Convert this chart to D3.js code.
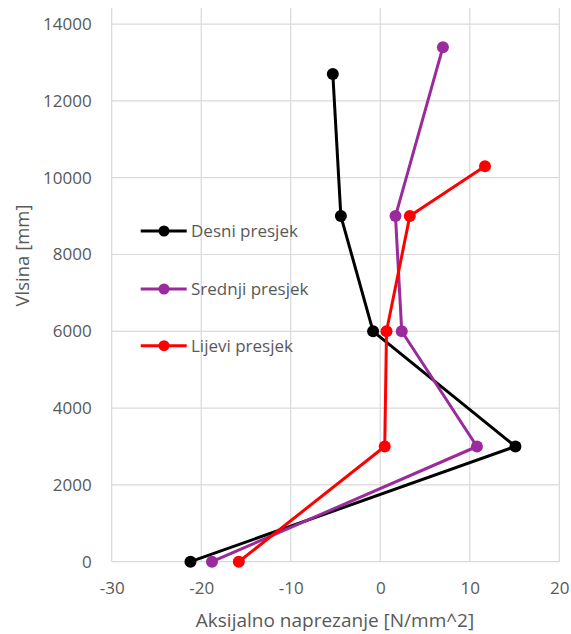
<!DOCTYPE html>
<html>
<head>
<meta charset="utf-8">
<script src="https://cdn.jsdelivr.net/npm/d3@7"></script>
<style>
  body { margin: 0; background: #fff; }
  svg { display: block; font-family: "Open Sans", sans-serif; }
</style>
</head>
<body>
<div id="container"></div>
<script>
// series: x = axial stress [N/mm^2], y = height [mm]
const seriesNames = ["Desni presjek", "Srednji presjek", "Lijevi presjek"];
const seriesColors = ["#000000", "#9b2a9c", "#ff0000"];
const desniX = [-21.2, 15.1, -0.8, -4.4, -5.3];
const desniY = [0, 3000, 6000, 9000, 12700];
const srednjiX = [-18.8, 10.8, 2.4, 1.7, 7.0];
const srednjiY = [0, 3000, 6000, 9000, 13400];
const lijeviX = [-15.8, 0.5, 0.7, 3.3, 11.7];
const lijeviY = [0, 3000, 6000, 9000, 10300];
const xTicks = [-30, -20, -10, 0, 10, 20];
const yTicks = [0, 2000, 4000, 6000, 8000, 10000, 12000, 14000];

const width = 571;
const height = 634;
const left = 111.7, right = 559.3, bottom = 561.7;

const xScale = d3.scaleLinear().domain([-30, 20]).range([left, right]);
const yScale = d3.scaleLinear().domain([0, 14000]).range([bottom, 24.1]);
const plotTop = yScale(14420);

const svg = d3.select("#container")
  .append("svg")
  .attr("width", width)
  .attr("height", height);

// gridlines
svg.append("g")
  .selectAll("line")
  .data(yTicks)
  .enter()
  .append("line")
  .attr("x1", left)
  .attr("x2", right)
  .attr("y1", d => yScale(d))
  .attr("y2", d => yScale(d))
  .attr("stroke", "#d9d9d9")
  .attr("stroke-width", 1.2);

svg.append("g")
  .selectAll("line")
  .data(xTicks)
  .enter()
  .append("line")
  .attr("x1", d => xScale(d))
  .attr("x2", d => xScale(d))
  .attr("y1", plotTop)
  .attr("y2", bottom)
  .attr("stroke", "#d9d9d9")
  .attr("stroke-width", 1.2);

// axes (labels only, lines come from the grid)
const plain = d => String(d);
const xAxis = d3.axisBottom(xScale).tickValues(xTicks).tickFormat(plain).tickSize(0).tickPadding(20);
const yAxis = d3.axisLeft(yScale).tickValues(yTicks).tickFormat(plain).tickSize(0).tickPadding(20);

const gx = svg.append("g")
  .attr("transform", `translate(0, ${bottom})`)
  .call(xAxis);
const gy = svg.append("g")
  .attr("transform", `translate(${left}, 0)`)
  .call(yAxis);

[gx, gy].forEach(g => {
  g.select(".domain").remove();
  g.selectAll("text")
    .attr("fill", "#595959")
    .style("font-size", "17px")
    .style("font-family", "'Open Sans', sans-serif");
});

svg.append("text")
  .attr("x", 335)
  .attr("y", 627)
  .attr("text-anchor", "middle")
  .attr("fill", "#595959")
  .style("font-size", "19px")
  .text("Aksijalno naprezanje [N/mm^2]");

svg.append("text")
  .attr("transform", "translate(29, 255.5) rotate(-90)")
  .attr("text-anchor", "middle")
  .attr("fill", "#595959")
  .style("font-size", "18.5px")
  .text("Vlsina [mm]");

// series
const series = [
  { name: seriesNames[0], color: seriesColors[0], xs: desniX, ys: desniY },
  { name: seriesNames[1], color: seriesColors[1], xs: srednjiX, ys: srednjiY },
  { name: seriesNames[2], color: seriesColors[2], xs: lijeviX, ys: lijeviY },
];

const line = d3.line()
  .x(d => xScale(d[0]))
  .y(d => yScale(d[1]));

series.forEach(s => {
  const pts = s.xs.map((x, i) => [x, s.ys[i]]);
  svg.append("path")
    .datum(pts)
    .attr("fill", "none")
    .attr("stroke", s.color)
    .attr("stroke-width", 3)
    .attr("stroke-linejoin", "round")
    .attr("d", line);
  svg.append("g")
    .selectAll("circle")
    .data(pts)
    .enter()
    .append("circle")
    .attr("cx", d => xScale(d[0]))
    .attr("cy", d => yScale(d[1]))
    .attr("r", 6)
    .attr("fill", s.color);
});

// legend
const legendY = [231, 289, 345.7];
const legend = svg.append("g")
  .selectAll("g")
  .data(series)
  .enter()
  .append("g")
  .attr("transform", (d, i) => `translate(0, ${legendY[i]})`);

legend.append("line")
  .attr("x1", 140.7)
  .attr("x2", 186.7)
  .attr("stroke", d => d.color)
  .attr("stroke-width", 3);

legend.append("circle")
  .attr("cx", 164)
  .attr("r", 5.5)
  .attr("fill", d => d.color);

legend.append("text")
  .attr("x", 191)
  .attr("dy", "0.35em")
  .attr("fill", "#595959")
  .style("font-size", "17px")
  .text(d => d.name);
</script>
</body>
</html>
